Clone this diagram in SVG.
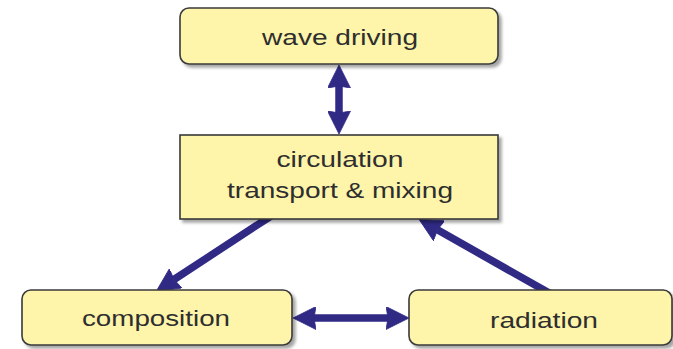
<svg xmlns="http://www.w3.org/2000/svg" width="673" height="349" viewBox="0 0 673 349">
  <defs>
    <filter id="shadow" x="-10%" y="-20%" width="125%" height="150%">
      <feDropShadow dx="3" dy="3" stdDeviation="1.8" flood-color="#000" flood-opacity="0.35"/>
    </filter>
    <marker id="head" markerUnits="userSpaceOnUse" viewBox="0 0 23 23" refX="2" refY="11.5"
            markerWidth="23" markerHeight="23" orient="auto-start-reverse">
      <path d="M0,0 L23,11.5 L0,23 L2,11.5 Z" fill="#302a85" stroke="#302a85" stroke-width="0.8" stroke-linejoin="round"/>
    </marker>
    <style>
      .box { fill: #fef4aa; stroke: #3a3a3a; stroke-width: 1.6; filter: url(#shadow); }
      .lbl { font-family: "Liberation Sans", Arial, sans-serif; font-size: 22px; fill: #2e2e2e; text-anchor: middle; }
      .link { stroke: #302a85; stroke-width: 7.5; fill: none; }
    </style>
  </defs>

  <!-- connectors drawn first so the boxes cover their tails -->
  <g id="connectors">
    <line class="link" x1="339" y1="86" x2="339" y2="113" marker-start="url(#head)" marker-end="url(#head)"/>
    <line class="link" x1="314" y1="318" x2="388" y2="318" marker-start="url(#head)" marker-end="url(#head)"/>
    <line class="link" x1="271" y1="216" x2="174" y2="279.5" marker-end="url(#head)"/>
    <line class="link" x1="551" y1="294" x2="437.4" y2="229.8" marker-end="url(#head)"/>
  </g>

  <g id="wave-driving">
    <rect class="box" x="180" y="8" width="318" height="56" rx="9"/>
    <text class="lbl" x="340" y="45" textLength="156" lengthAdjust="spacingAndGlyphs">wave driving</text>
  </g>

  <g id="circulation">
    <rect class="box" x="180" y="135" width="318" height="84"/>
    <text class="lbl" x="340" y="167" textLength="127" lengthAdjust="spacingAndGlyphs">circulation</text>
    <text class="lbl" x="340" y="198" textLength="226" lengthAdjust="spacingAndGlyphs">transport &amp; mixing</text>
  </g>

  <g id="composition">
    <rect class="box" x="22" y="290" width="270" height="55" rx="9"/>
    <text class="lbl" x="156" y="326" textLength="148" lengthAdjust="spacingAndGlyphs">composition</text>
  </g>

  <g id="radiation">
    <rect class="box" x="409" y="290" width="263" height="55" rx="9"/>
    <text class="lbl" x="544" y="328" textLength="108" lengthAdjust="spacingAndGlyphs">radiation</text>
  </g>
</svg>
